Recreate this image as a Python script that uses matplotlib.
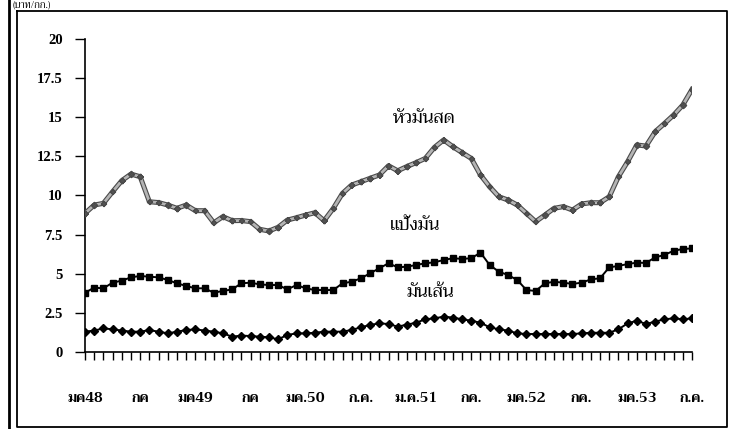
import matplotlib
matplotlib.use("Agg")
import matplotlib.pyplot as plt
import matplotlib.patheffects as pe
from matplotlib.lines import Line2D

# monthly prices (baht/kg), Jan 2548 .. Jul 2553
fresh_roots = [8.86, 9.39, 9.5, 10.24, 10.95, 11.37, 11.2, 9.6, 9.55, 9.39,
               9.18, 9.39, 9.03, 9.03, 8.26, 8.65, 8.39, 8.4, 8.33, 7.84,
               7.73, 7.97, 8.43, 8.58, 8.75, 8.9, 8.39, 9.18, 10.14, 10.67,
               10.88, 11.1, 11.31, 11.9, 11.58, 11.85, 12.1, 12.37, 13.08, 13.55,
               13.12, 12.74, 12.37, 11.31, 10.56, 9.92, 9.71, 9.39, 8.86, 8.33,
               8.75, 9.18, 9.29, 9.07, 9.46, 9.54, 9.54, 9.92, 11.2, 12.16,
               13.23, 13.16, 14.08, 14.6, 15.14, 15.78, 16.78]
starch = [3.79, 4.11, 4.07, 4.43, 4.56, 4.77, 4.86, 4.81, 4.77, 4.6,
          4.39, 4.22, 4.07, 4.07, 3.79, 3.9, 4.0, 4.39, 4.43, 4.32,
          4.28, 4.28, 4.0, 4.28, 4.07, 3.96, 3.96, 3.96, 4.39, 4.49,
          4.71, 5.03, 5.35, 5.67, 5.41, 5.45, 5.56, 5.67, 5.73, 5.88,
          5.99, 5.95, 5.99, 6.35, 5.56, 5.13, 4.92, 4.6, 3.96, 3.9,
          4.39, 4.49, 4.43, 4.35, 4.43, 4.64, 4.71, 5.41, 5.5, 5.62,
          5.71, 5.69, 6.05, 6.2, 6.47, 6.58, 6.62]
chips = [1.3, 1.37, 1.51, 1.45, 1.37, 1.3, 1.3, 1.4, 1.3, 1.19,
         1.3, 1.4, 1.45, 1.37, 1.3, 1.19, 0.98, 1.05, 1.02, 0.98,
         0.94, 0.81, 1.09, 1.19, 1.19, 1.23, 1.3, 1.3, 1.3, 1.41,
         1.58, 1.73, 1.83, 1.79, 1.62, 1.75, 1.87, 2.09, 2.15, 2.26,
         2.2, 2.09, 2.0, 1.87, 1.58, 1.45, 1.37, 1.19, 1.15, 1.15,
         1.15, 1.15, 1.15, 1.15, 1.19, 1.23, 1.23, 1.23, 1.45, 1.83,
         2.0, 1.79, 1.94, 2.09, 2.15, 2.09, 2.15]

month_labels = ["มค48", "กค", "มค49", "กค", "มค.50", "ก.ค.", "ม.ค.51", "กค.",
                "มค.52", "กค.", "มค.53", "ก.ค."]
series_names = ["หัวมันสด", "แป้งมัน", "มันเส้น"]
unit_label = "(บาท/กก.)"

thai_font = ["Trirong", "Sarabun", "DejaVu Sans"]
num_font = ["Liberation Serif", "DejaVu Serif"]

x = list(range(len(fresh_roots)))

fig = plt.figure(figsize=(7.37, 4.29), dpi=100)
ax = fig.add_axes([85 / 737, 77 / 429, 607 / 737, 313 / 429])

# fresh roots: grey band with dark speckled outline
ax.plot(x, fresh_roots, color="#b4b4b4", lw=2.0, marker="x", ms=2.5,
        mec="#555555", mew=0.5,
        path_effects=[pe.Stroke(linewidth=3.6, foreground="#4a4a4a"), pe.Normal()],
        zorder=3)
ax.plot(x, starch, color="black", lw=1.4, marker="s", ms=4, zorder=3)
ax.plot(x, chips, color="black", lw=1.4, marker="D", ms=4.5, zorder=3)

ax.set_xlim(0, len(x) - 1)
ax.set_ylim(0, 20)
ax.set_yticks([0, 2.5, 5, 7.5, 10, 12.5, 15, 17.5, 20])
ax.set_yticklabels(["0", "2.5", "5", "7.5", "10", "12.5", "15", "17.5", "20"],
                   family=num_font, fontweight="bold", fontsize=10.5)
ax.set_xticks(x, minor=True)
ax.set_xticks(range(0, len(x), 6))
ax.set_xticklabels(month_labels, family=thai_font, fontweight="bold", fontsize=10)
ax.tick_params(axis="x", which="major", length=6, width=1, pad=23, direction="out")
ax.tick_params(axis="x", which="minor", length=6, width=1, direction="out")
ax.tick_params(axis="y", length=7, width=1, pad=9, direction="out")

for s in ["top", "right"]:
    ax.spines[s].set_visible(False)
for s in ["left", "bottom"]:
    ax.spines[s].set_linewidth(1.2)

ax.text(36.9, 14.9, series_names[0], family=thai_font, fontsize=13, ha="center", va="center")
ax.text(35.9, 8.1, series_names[1], family=thai_font, fontsize=13, ha="center", va="center")
ax.text(37.5, 3.8, series_names[2], family=thai_font, fontsize=13, ha="center", va="center")

# outer frame like the scanned page
fig.add_artist(Line2D([17 / 737, 727 / 737, 727 / 737, 17 / 737, 17 / 737],
                      [1 - 11 / 429, 1 - 11 / 429, 1 - 427 / 429, 1 - 427 / 429, 1 - 11 / 429],
                      color="black", lw=1.3))
fig.add_artist(Line2D([9 / 737, 9 / 737], [0, 1], color="black", lw=2))
fig.text(13 / 737, 1 - 0.5 / 429, unit_label, family=thai_font, fontsize=7, va="top", ha="left")

fig.savefig("out.png", dpi=100)
